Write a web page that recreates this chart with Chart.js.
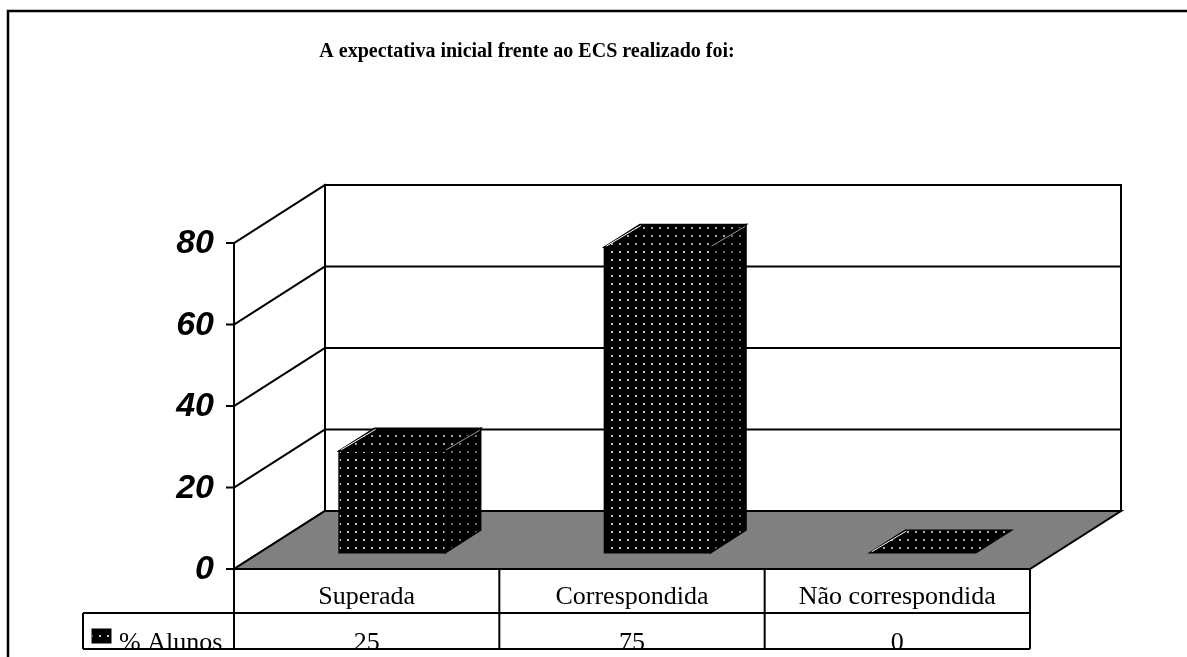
<!DOCTYPE html>
<html lang="pt">
<head>
  <meta charset="UTF-8" />
  <title>A expectativa inicial frente ao ECS realizado foi</title>
  <script src="https://cdn.jsdelivr.net/npm/chart.js"></script>
  <style>
    html, body { margin: 0; padding: 0; background: #fff; }
    canvas { display: block; }
  </style>
</head>
<body>
  <canvas id="chart" width="1187" height="657"></canvas>
  <script>
    // data
    const categories = ["Superada", "Correspondida", "Não correspondida"];
    const seriesName = "% Alunos";
    const alunos = [25, 75, 0];
    const yTicks = [0, 20, 40, 60, 80];
    const chartTitle = "A expectativa inicial frente ao ECS realizado foi:";

    // 3D look
    const DX = 91, DY = 58;        // depth of the side wall / floor
    const D0 = 0.28, D1 = 0.67;    // bar front and back depth
    const serif = "'Liberation Serif', 'Times New Roman', serif";
    const sans = "'Liberation Sans', Arial, sans-serif";

    function dotPattern(ctx, dot) {
      const c = document.createElement("canvas");
      c.width = 8; c.height = 8;
      const g = c.getContext("2d");
      g.fillStyle = "#000";
      g.fillRect(0, 0, 8, 8);
      g.fillStyle = dot;
      g.fillRect(3, 3, 2, 2);
      return ctx.createPattern(c, "repeat");
    }

    function poly(ctx, pts, fill, stroke, lw) {
      ctx.beginPath();
      ctx.moveTo(pts[0][0], pts[0][1]);
      for (let i = 1; i < pts.length; i++) ctx.lineTo(pts[i][0], pts[i][1]);
      ctx.closePath();
      if (fill) { ctx.fillStyle = fill; ctx.fill(); }
      if (stroke) { ctx.strokeStyle = stroke; ctx.lineWidth = lw || 1; ctx.stroke(); }
    }

    const proj = (x, y, d) => [x + DX * d, y - DY * d];

    const excel3d = {
      id: "excel3d",
      beforeDraw(chart) {
        const ctx = chart.ctx;
        ctx.save();
        ctx.fillStyle = "#fff";
        ctx.fillRect(0, 0, chart.width, chart.height);
        ctx.strokeStyle = "#000";
        ctx.lineWidth = 2.5;
        ctx.strokeRect(8, 11, 1200, 700);
        ctx.fillStyle = "#000";
        ctx.font = "bold 20px " + serif;
        ctx.textAlign = "center";
        ctx.textBaseline = "alphabetic";
        ctx.fillText(chartTitle, 527, 57);
        ctx.restore();
      },
      beforeDatasetsDraw(chart) {
        const ctx = chart.ctx;
        const a = chart.chartArea;
        const y = chart.scales.y;
        const y0 = y.getPixelForValue(0);
        const yMax = y.getPixelForValue(y.max);
        ctx.save();
        ctx.lineCap = "square";

        // back wall
        poly(ctx, [[a.left + DX, yMax - DY], [a.right + DX, yMax - DY],
                   [a.right + DX, y0 - DY], [a.left + DX, y0 - DY]], "#fff", "#000", 2);
        // gridlines on back wall + side wall
        y.ticks.forEach(t => {
          const py = y.getPixelForValue(t.value);
          ctx.strokeStyle = "#000";
          ctx.lineWidth = 2;
          ctx.beginPath();
          ctx.moveTo(a.left + DX, py - DY);
          ctx.lineTo(a.right + DX, py - DY);
          ctx.moveTo(a.left, py);
          ctx.lineTo(a.left + DX, py - DY);
          ctx.stroke();
          // tick mark
          ctx.beginPath();
          ctx.moveTo(a.left - 7, py);
          ctx.lineTo(a.left, py);
          ctx.stroke();
          // label
          ctx.fillStyle = "#000";
          ctx.font = "italic bold 34px " + sans;
          ctx.textAlign = "right";
          ctx.textBaseline = "middle";
          ctx.fillText(String(t.value), a.left - 20, py + 1);
        });

        // floor
        poly(ctx, [[a.left, y0], [a.right, y0], [a.right + DX, y0 - DY], [a.left + DX, y0 - DY]],
             "#808080", "#000", 2);

        // front vertical axis
        ctx.strokeStyle = "#000";
        ctx.lineWidth = 2;
        ctx.beginPath();
        ctx.moveTo(a.left, yMax);
        ctx.lineTo(a.left, y0);
        ctx.stroke();
        ctx.restore();
      },
      afterDatasetsDraw(chart) {
        const ctx = chart.ctx;
        const a = chart.chartArea;
        const x = chart.scales.x;
        const y = chart.scales.y;
        const meta = chart.getDatasetMeta(0);
        const front = dotPattern(ctx, "#c8c8c8");
        const side = dotPattern(ctx, "#707070");
        const top = dotPattern(ctx, "#a8a8a8");
        const yBase = y.getPixelForValue(0);
        ctx.save();
        ctx.lineJoin = "miter";

        meta.data.forEach((el, i) => {
          const xl = el.x - el.width / 2;
          const xr = el.x + el.width / 2;
          const yt = y.getPixelForValue(alunos[i]);
          const fTL = proj(xl, yt, D0), fTR = proj(xr, yt, D0);
          const fBR = proj(xr, yBase, D0), fBL = proj(xl, yBase, D0);
          const bTL = proj(xl, yt, D1), bTR = proj(xr, yt, D1), bBR = proj(xr, yBase, D1);
          if (yBase - yt > 0.5) {
            poly(ctx, [fTR, bTR, bBR, fBR], side, "#000", 1.5);
            poly(ctx, [fTL, fTR, fBR, fBL], front, "#000", 1.5);
          }
          poly(ctx, [fTL, bTL, bTR, fTR], top, "#000", 1.5);
          // highlight edges
          ctx.strokeStyle = "#fff";
          ctx.lineWidth = 1;
          ctx.beginPath();
          ctx.moveTo(fTL[0] + 2, fTL[1] - 1);
          ctx.lineTo(bTL[0] + 1, bTL[1] + 1);
          ctx.stroke();
          if (yBase - yt > 0.5) {
            ctx.strokeStyle = "#999";
            ctx.beginPath();
            ctx.moveTo(fTR[0] + 1, fTR[1] - 1);
            ctx.lineTo(bTR[0] - 1, bTR[1] + 2);
            ctx.stroke();
          }
        });

        // data table
        const t0 = a.bottom, t1 = 613, t2 = 649, keyLeft = 83;
        ctx.strokeStyle = "#000";
        ctx.lineWidth = 2;
        ctx.beginPath();
        ctx.moveTo(a.left, t0); ctx.lineTo(a.right, t0);
        ctx.moveTo(keyLeft, t1); ctx.lineTo(a.right, t1);
        ctx.moveTo(keyLeft, t2); ctx.lineTo(a.right, t2);
        ctx.moveTo(keyLeft, t1); ctx.lineTo(keyLeft, t2);
        ctx.moveTo(a.left, t0); ctx.lineTo(a.left, t2);
        const step = (a.right - a.left) / categories.length;
        for (let i = 1; i <= categories.length; i++) {
          const cx = a.left + step * i;
          ctx.moveTo(cx, t0); ctx.lineTo(cx, t2);
        }
        ctx.stroke();

        ctx.fillStyle = "#000";
        ctx.font = "26px " + serif;
        ctx.textAlign = "center";
        ctx.textBaseline = "alphabetic";
        categories.forEach((c, i) => ctx.fillText(c, x.getPixelForValue(i), 604));

        ctx.save();
        ctx.beginPath();
        ctx.rect(0, t1, chart.width, t2 - t1 - 1);
        ctx.clip();
        alunos.forEach((v, i) => ctx.fillText(String(v), x.getPixelForValue(i), 650));
        ctx.textAlign = "left";
        ctx.fillText(seriesName, 119, 650);
        ctx.restore();

        // legend key
        ctx.fillStyle = front;
        ctx.fillRect(92, 629, 19, 14);
        ctx.strokeStyle = "#000";
        ctx.lineWidth = 1;
        ctx.strokeRect(92, 629, 19, 14);
        ctx.restore();
      }
    };

    new Chart(document.getElementById("chart"), {
      type: "bar",
      data: {
        labels: categories,
        datasets: [{
          label: seriesName,
          data: alunos,
          backgroundColor: "rgba(0,0,0,0)",
          borderWidth: 0,
          barPercentage: 0.4,
          categoryPercentage: 1
        }]
      },
      options: {
        responsive: false,
        animation: false,
        layout: { padding: { left: 234, top: 243, right: 157, bottom: 88 } },
        scales: {
          x: { display: false, offset: true },
          y: { display: false, min: 0, max: 80, ticks: { stepSize: 20 } }
        },
        plugins: {
          legend: { display: false },
          tooltip: { enabled: false },
          title: { display: false }
        }
      },
      plugins: [excel3d]
    });
  </script>
</body>
</html>
